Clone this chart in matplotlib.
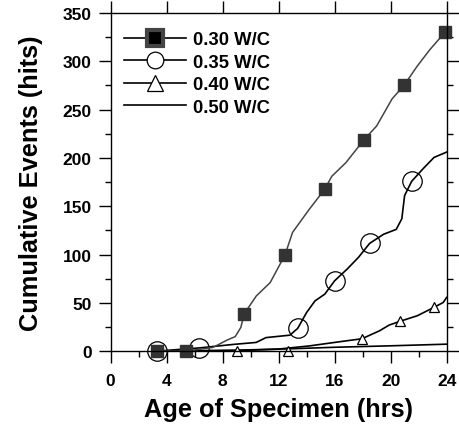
import matplotlib
matplotlib.use("Agg")
import matplotlib.pyplot as plt
from matplotlib.lines import Line2D
from matplotlib.ticker import MultipleLocator

plt.rcParams['font.family'] = ['Liberation Sans', 'DejaVu Sans']
plt.rcParams['font.weight'] = 'bold'

# 0.30 W/C
hrs_30 = [3.3, 5.4, 7.3, 8.4, 8.9, 9.3, 9.54, 10.4, 11.4, 12.45, 13.0, 14.2, 15.3,
          15.8, 16.8, 18.1, 19.0, 20.1, 20.97, 21.9, 22.8, 23.88]
hits_30 = [0, 0, 3.8, 12, 15, 24.5, 38.6, 57, 71, 99.4, 123, 147, 167.7,
           181, 195, 218.8, 233, 261, 275.4, 295, 312, 330]
hrs_30_mk = [3.3, 5.4, 9.54, 12.45, 15.3, 18.1, 20.97, 23.88]
hits_30_mk = [0, 0, 38.6, 99.4, 167.7, 218.8, 275.4, 330]

# 0.35 W/C
hrs_35 = [3.3, 6.4, 8.8, 10.4, 11.1, 12.8, 13.36, 14.0, 14.6, 15.3, 16.0, 16.9,
          17.7, 18.5, 19.5, 20.4, 20.8, 21.0, 21.5, 22.3, 23.1, 24.0]
hits_35 = [0, 3.4, 7, 9, 14, 16.5, 23.5, 40, 52, 59, 72.8, 85,
           97, 111.5, 121, 126, 137, 161, 175.7, 188.5, 200.5, 206]
hrs_35_mk = [3.3, 6.33, 13.36, 16.02, 18.52, 21.5]
hits_35_mk = [0, 3, 23.5, 72.8, 111.5, 175.7]

# 0.40 W/C
hrs_40 = [3.3, 9.0, 11.9, 14.2, 16.4, 17.95, 19.2, 19.9, 20.7, 21.9, 23.1, 23.76, 24.0]
hits_40 = [0, 0.5, 2, 5.4, 9.8, 12.8, 21, 27, 31, 36.6, 45.3, 50.4, 55.6]
hrs_40_mk = [9.0, 12.7, 17.95, 20.7, 23.1]
hits_40_mk = [0, 0, 12.8, 31, 45.3]

# 0.50 W/C
hrs_50 = [3.3, 9.0, 13.0, 16.0, 20.0, 24.0]
hits_50 = [0, 1, 2.5, 4, 5.5, 7.2]

labels = ['0.30 W/C', '0.35 W/C', '0.40 W/C', '0.50 W/C']

fig = plt.figure(figsize=(4.59, 4.31), dpi=100)
ax = fig.add_axes([0.241, 0.183, 0.732, 0.7845])

ax.plot(hrs_50, hits_50, color='black', lw=1.2, clip_on=False)
ax.plot(hrs_40, hits_40, color='black', lw=1.2, clip_on=False)
ax.plot(hrs_40_mk, hits_40_mk, ls='none', marker='^', ms=7, mfc='white',
        mec='black', mew=0.9, clip_on=False)
ax.plot(hrs_35, hits_35, color='black', lw=1.2, clip_on=False)
ax.plot(hrs_35_mk, hits_35_mk, ls='none', marker='o', ms=14, mfc='none',
        mec='black', mew=0.9, clip_on=False)
ax.plot(hrs_30, hits_30, color='#444444', lw=1.1, clip_on=False)
ax.plot(hrs_30_mk, hits_30_mk, ls='none', marker='s', ms=8, mfc='#333333',
        mec='#333333', clip_on=False)

ax.set_xlim(0, 24)
ax.set_ylim(0, 350)
ax.xaxis.set_major_locator(MultipleLocator(4))
ax.xaxis.set_minor_locator(MultipleLocator(2))
ax.yaxis.set_major_locator(MultipleLocator(50))
ax.yaxis.set_minor_locator(MultipleLocator(25))
ax.tick_params(which='both', direction='out', top=True, right=True,
               width=1.0, labelsize=12.5)
ax.tick_params(which='major', length=8.5, pad=5)
ax.tick_params(which='major', axis='x', pad=7)
ax.tick_params(which='minor', length=4.5)
ax.tick_params(which='minor', axis='x', top=False)
for s in ax.spines.values():
    s.set_linewidth(1.0)

ax.set_xlabel('Age of Specimen (hrs)', fontsize=18.3, fontweight='bold', labelpad=7)
ax.set_ylabel('Cumulative Events (hits)', fontsize=18.3, fontweight='bold', labelpad=14)

handles = [
    Line2D([], [], color='black', lw=1.2, marker='s', ms=12, mfc='black',
           mec='#444444', mew=3),
    Line2D([], [], color='black', lw=1.2, marker='o', ms=12, mfc='white',
           mec='black', mew=0.9),
    Line2D([], [], color='black', lw=1.2, marker='^', ms=12, mfc='white',
           mec='black', mew=0.9),
    Line2D([], [], color='black', lw=1.2),
]
ax.legend(handles, labels, loc='upper left', frameon=False, fontsize=13.3,
          handlelength=3.4, handletextpad=0.35, labelspacing=0.3,
          borderaxespad=0.3, bbox_to_anchor=(0.0, 0.985))

fig.savefig('out.png', dpi=100)
